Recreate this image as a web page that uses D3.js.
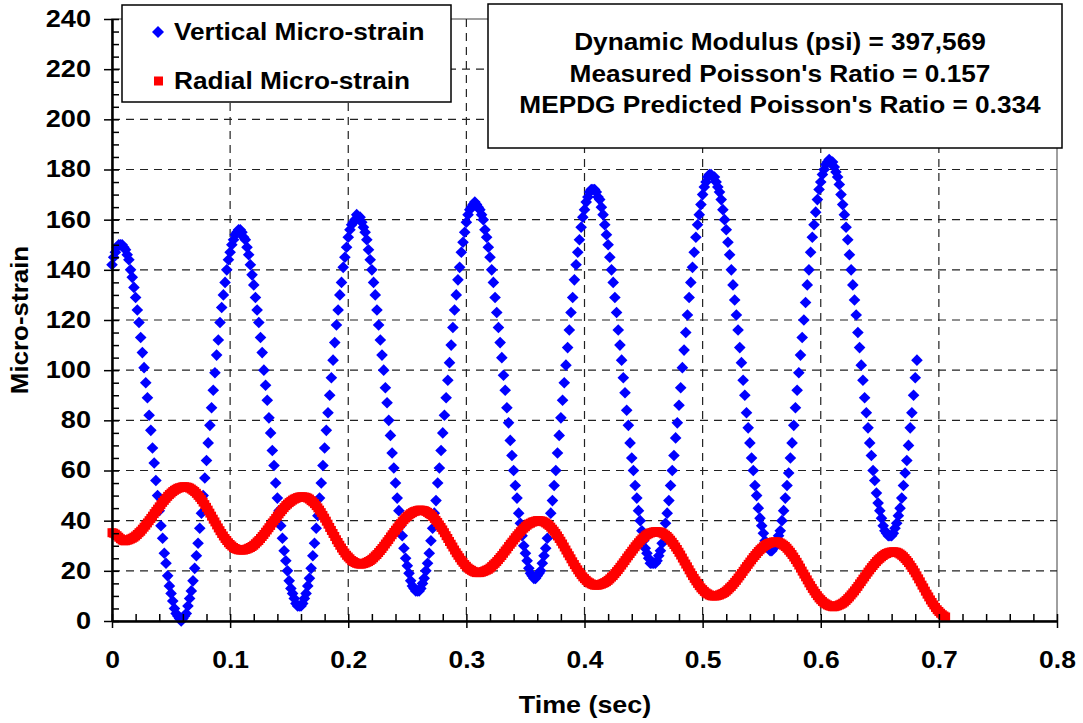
<!DOCTYPE html>
<html>
<head>
<meta charset="utf-8">
<script src="https://cdn.jsdelivr.net/npm/d3@7/dist/d3.min.js"></script>
<style>
  body { margin: 0; background: #fff; }
  text { font-family: "Liberation Sans", Arial, sans-serif; font-weight: bold; fill: #000; }
</style>
</head>
<body>
<div id="chart"></div>
<script>
// sampling interval of the recorded strains (sec)
const sampleStep = 1 / 700

// vertical micro-strain, one value per sample
const verticalStrain = [
  142,145,147,149,150,150,
  150,149,148,146,144,140,137,133,129,124,119,113,107,101,95,89,82,76,69,63,56,50,44,38,33,27,23,18,14,11,8,5,3,2,1,0,
  1,2,3,6,9,12,16,21,26,31,37,43,50,57,64,71,78,85,92,99,106,112,119,125,130,135,140,144,147,150,152,154,155,156,
  156,155,153,152,149,146,142,138,134,129,124,119,113,107,100,94,88,81,75,68,62,55,49,44,38,33,28,24,20,16,13,11,9,7,6,6,
  6,7,9,11,14,17,21,26,31,37,42,49,55,62,69,76,83,90,97,104,111,118,124,130,135,141,145,149,153,156,158,159,160,162,
  161,161,159,157,155,152,148,144,140,135,130,124,118,112,106,100,93,87,80,74,67,61,55,49,44,38,34,29,25,22,19,16,14,13,12,12,
  12,13,15,17,20,23,27,32,37,43,48,55,61,68,75,82,89,96,103,110,117,124,130,136,141,147,151,155,159,162,164,165,166,167,
  166,165,164,162,160,156,153,149,145,140,135,129,123,117,111,105,98,92,85,79,72,66,60,54,49,43,39,34,30,27,24,21,19,18,17,17,
  18,19,20,23,26,29,33,38,43,48,54,60,67,74,81,88,95,102,109,116,123,129,136,142,147,152,157,161,164,167,169,171,172,172,
  172,171,169,168,165,162,158,154,150,145,140,135,129,123,116,110,104,97,91,84,78,71,65,60,54,49,44,40,36,32,29,27,25,23,23,23,
  23,24,26,28,31,35,39,43,48,54,60,66,73,79,86,93,101,108,115,122,129,135,141,147,153,158,162,166,170,173,175,177,178,178,
  177,177,175,173,171,168,164,160,156,151,146,140,134,128,122,116,109,103,96,90,83,77,71,65,60,54,50,45,41,38,35,32,30,29,28,28,
  29,30,31,34,36,40,44,49,54,59,65,71,78,85,92,99,106,113,120,127,134,140,147,153,158,163,168,172,175,178,180,182,183,184,
  183,183,181,179,177,174,170,166,162,157,152,146,140,134,128,122,115,109,102,96,89,83,77,71,66,60,56,51,47,44,41,38,36,35,34,34,
  34,35,37,39,42,45,49,54,59,64,70,77,83,90,97,104
]

// radial micro-strain, one value per sample
const radialStrain = [
  35.2,35.0,34.6,34.0,33.4,32.8,32.3,32.0,
  32.0,32.2,32.4,32.7,33.0,33.4,33.9,34.5,35.2,35.8,36.6,37.4,38.2,39.1,40.0,40.9,41.8,42.8,43.7,44.6,45.5,46.4,47.3,48.1,48.9,49.7,50.4,51.0,51.6,52.1,52.5,52.9,53.1,53.3,53.5,53.5,
  53.4,53.3,53.0,52.6,52.1,51.6,50.9,50.1,49.3,48.4,47.4,46.4,45.3,44.2,43.0,41.8,40.6,39.5,38.3,37.1,36.0,34.9,33.9,32.9,32.1,31.2,30.5,29.9,29.3,28.9,28.6,28.4,28.3,28.3,
  28.3,28.5,28.7,29.0,29.3,29.7,30.2,30.8,31.5,32.1,32.9,33.7,34.5,35.4,36.3,37.2,38.1,39.1,40.0,40.9,41.8,42.7,43.6,44.4,45.2,46.0,46.6,47.2,47.7,48.2,48.6,48.9,49.2,49.4,49.5,49.5,
  49.4,49.3,49.0,48.6,48.0,47.5,46.8,46.0,45.1,44.2,43.2,42.1,41.0,39.8,38.6,37.3,36.1,34.9,33.7,32.4,31.3,30.2,29.1,28.1,27.1,26.2,25.5,24.8,24.1,23.7,23.3,23.0,22.8,22.7,
  22.7,22.9,23.1,23.4,23.7,24.1,24.6,25.2,25.9,26.5,27.3,28.1,28.9,29.8,30.7,31.6,32.5,33.5,34.4,35.3,36.2,37.1,38.0,38.8,39.6,40.4,41.1,41.7,42.3,42.8,43.2,43.6,43.8,44.0,44.2,44.2,
  44.1,44.0,43.7,43.3,42.8,42.4,41.7,40.9,40.1,39.3,38.3,37.3,36.3,35.2,34.0,32.9,31.7,30.6,29.5,28.3,27.2,26.2,25.2,24.2,23.4,22.5,21.8,21.1,20.6,20.2,19.8,19.5,19.3,19.3,
  19.3,19.5,19.7,20.0,20.3,20.6,21.1,21.7,22.4,23.0,23.7,24.5,25.3,26.1,27.0,27.9,28.7,29.7,30.6,31.4,32.3,33.2,34.0,34.8,35.6,36.3,37.0,37.6,38.2,38.7,39.0,39.4,39.6,39.8,40.0,40.0,
  39.9,39.8,39.5,39.1,38.6,38.1,37.4,36.6,35.8,34.9,33.9,32.9,31.8,30.7,29.5,28.3,27.1,26.0,24.8,23.6,22.5,21.4,20.4,19.4,18.5,17.6,16.9,16.2,15.6,15.2,14.8,14.5,14.3,14.3,
  14.3,14.5,14.7,15.0,15.3,15.7,16.2,16.8,17.5,18.1,18.9,19.7,20.5,21.4,22.3,23.2,24.1,25.1,26.0,26.9,27.8,28.7,29.6,30.4,31.2,32.0,32.7,33.3,33.9,34.4,34.8,35.1,35.3,35.5,35.6,35.6,
  35.5,35.4,35.1,34.7,34.2,33.7,33.0,32.2,31.4,30.5,29.5,28.5,27.4,26.3,25.1,23.9,22.7,21.6,20.4,19.2,18.1,17.0,16.0,15.0,14.1,13.2,12.5,11.8,11.2,10.8,10.4,10.1,10.0,10.0,
  10.0,10.2,10.4,10.7,11.0,11.4,11.9,12.5,13.2,13.8,14.6,15.4,16.2,17.1,18.0,18.9,19.8,20.8,21.7,22.6,23.5,24.4,25.3,26.1,26.9,27.7,28.4,29.0,29.6,30.1,30.5,30.9,31.1,31.3,31.5,31.6,
  31.5,31.4,31.1,30.7,30.2,29.7,29.0,28.2,27.4,26.5,25.5,24.5,23.4,22.3,21.1,19.9,18.7,17.6,16.4,15.2,14.1,13.0,12.0,11.0,10.1,9.2,8.5,7.8,7.2,6.8,6.4,6.1,5.9,5.7,
  5.7,5.9,6.1,6.4,6.7,7.1,7.6,8.2,8.9,9.6,10.4,11.2,12.0,12.9,13.8,14.8,15.7,16.7,17.6,18.6,19.5,20.4,21.3,22.1,22.9,23.7,24.4,25.0,25.6,26.1,26.6,26.9,27.2,27.4,27.5,27.6,
  27.5,27.4,27.1,26.7,26.2,25.6,24.9,24.1,23.3,22.3,21.3,20.3,19.2,18.0,16.8,15.6,14.3,13.2,11.9,10.7,9.6,8.4,7.4,6.4,5.4,4.5,3.8,3.1,2.5,2.0,1.6
]

const xTickValues = [0, 0.1, 0.2, 0.3, 0.4, 0.5, 0.6, 0.7, 0.8]
const xTickLabels = ["0", "0.1", "0.2", "0.3", "0.4", "0.5", "0.6", "0.7", "0.8"]
const yTickValues = [0, 20, 40, 60, 80, 100, 120, 140, 160, 180, 200, 220, 240]

const seriesNames = ["Vertical Micro-strain", "Radial Micro-strain"]
const seriesColors = ["#0000ff", "#ff0000"]
const infoLines = [
  "Dynamic Modulus (psi) = 397,569",
  "Measured Poisson's Ratio = 0.157",
  "MEPDG Predicted Poisson's Ratio = 0.334"
]
const xTitle = "Time (sec)"
const yTitle = "Micro-strain"

// layout
const W = 1083, H = 723
const margin = { top: 19, right: 26, bottom: 102, left: 112 }
const plotW = W - margin.left - margin.right
const plotH = H - margin.top - margin.bottom

// the original lettering is a little wider than Liberation Sans
const widen = (sel, k) => sel.each(function () {
  const len = this.getComputedTextLength()
  d3.select(this).attr("textLength", len * k).attr("lengthAdjust", "spacingAndGlyphs")
})

const svg = d3.select("#chart").append("svg")
  .attr("width", W)
  .attr("height", H)

svg.append("rect").attr("width", W).attr("height", H).attr("fill", "#fff")

const g = svg.append("g")
  .attr("transform", `translate(${margin.left},${margin.top})`)

const x = d3.scaleLinear().domain([0, 0.8]).range([0, plotW])
const y = d3.scaleLinear().domain([0, 240]).range([plotH, 0])

// plot frame
g.append("rect")
  .attr("width", plotW).attr("height", plotH)
  .attr("fill", "none").attr("stroke", "#808080").attr("stroke-width", 1.5)

// dashed grid
g.append("g").selectAll("line")
  .data(xTickValues.slice(1, -1))
  .join("line")
  .attr("x1", d => x(d)).attr("x2", d => x(d))
  .attr("y1", 0).attr("y2", plotH)
  .attr("stroke", "#222").attr("stroke-width", 1.2).attr("stroke-dasharray", "8,6")

g.append("g").selectAll("line")
  .data(yTickValues.slice(1, -1))
  .join("line")
  .attr("x1", 0).attr("x2", plotW)
  .attr("y1", d => y(d)).attr("y2", d => y(d))
  .attr("stroke", "#222").attr("stroke-width", 1.2).attr("stroke-dasharray", "8,6")

// vertical strain: blue diamonds
const dia = 5.8
g.append("g").selectAll("path")
  .data(verticalStrain)
  .join("path")
  .attr("d", (d, i) => {
    const cx = x(i * sampleStep), cy = y(d)
    return `M${cx},${cy - dia}L${cx + dia},${cy}L${cx},${cy + dia}L${cx - dia},${cy}Z`
  })
  .attr("fill", seriesColors[0])

// radial strain: red squares
const sq = 9
g.append("g").selectAll("rect")
  .data(radialStrain)
  .join("rect")
  .attr("x", (d, i) => x(i * sampleStep) - sq / 2)
  .attr("y", d => y(d) - sq / 2)
  .attr("width", sq).attr("height", sq)
  .attr("fill", seriesColors[1])

// axes
const xAxis = g.append("g")
  .attr("transform", `translate(0,${plotH})`)
  .call(d3.axisBottom(x).tickValues(xTickValues).tickSize(7).tickSizeOuter(0)
    .tickPadding(24).tickFormat((d, i) => xTickLabels[i]))
const xMinor = g.append("g")
  .attr("transform", `translate(0,${plotH})`)
  .call(d3.axisBottom(x).tickValues(d3.range(0, 0.8001, 0.02)).tickSize(-7).tickSizeOuter(0).tickFormat(""))

const yAxis = g.append("g")
  .call(d3.axisLeft(y).tickValues(yTickValues).tickSize(8).tickSizeOuter(0).tickPadding(13))
const yMinor = g.append("g")
  .call(d3.axisLeft(y).tickValues(d3.range(0, 240.1, 5)).tickSize(-7).tickSizeOuter(0).tickFormat(""))

;[xAxis, xMinor, yAxis, yMinor].forEach(a => {
  a.select(".domain").attr("stroke", "#000").attr("stroke-width", 2)
  a.selectAll(".tick line").attr("stroke", "#000").attr("stroke-width", 1.5)
})
xAxis.selectAll(".tick text").attr("font-size", 23).attr("font-family", null).attr("fill", "#000")
  .call(widen, 1.15)
yAxis.selectAll(".tick text").attr("font-size", 23).attr("font-family", null).attr("fill", "#000")
  .call(widen, 1.18)

// axis titles
svg.append("text")
  .attr("x", 585)
  .attr("y", 713)
  .attr("text-anchor", "middle")
  .attr("font-size", 24)
  .text(xTitle)
  .call(widen, 1.12)

svg.append("text")
  .attr("transform", `translate(28,${margin.top + plotH / 2}) rotate(-90)`)
  .attr("text-anchor", "middle")
  .attr("font-size", 24)
  .text(yTitle)
  .call(widen, 1.08)

// legend
const legend = svg.append("g")
legend.append("rect")
  .attr("x", 122).attr("y", 5).attr("width", 329).attr("height", 97)
  .attr("fill", "#fff").attr("stroke", "#000").attr("stroke-width", 1.5)
const legendRows = [32, 81]
legend.append("path")
  .attr("d", `M158,${legendRows[0] - 6}L164,${legendRows[0]}L158,${legendRows[0] + 6}L152,${legendRows[0]}Z`)
  .attr("fill", seriesColors[0])
legend.append("rect")
  .attr("x", 154).attr("y", legendRows[1] - 4.5).attr("width", 9).attr("height", 9)
  .attr("fill", seriesColors[1])
legend.selectAll("text.lbl")
  .data(seriesNames)
  .join("text")
  .attr("class", "lbl")
  .attr("x", 174)
  .attr("y", (d, i) => legendRows[i] + 8)
  .attr("font-size", 23)
  .text(d => d)
  .call(widen, 1.14)

// info box
const info = svg.append("g")
info.append("rect")
  .attr("x", 488).attr("y", 4).attr("width", 574).attr("height", 144)
  .attr("fill", "#fff").attr("stroke", "#000").attr("stroke-width", 1.5)
info.selectAll("text")
  .data(infoLines)
  .join("text")
  .attr("x", 780)
  .attr("y", (d, i) => 50 + i * 31.5)
  .attr("text-anchor", "middle")
  .attr("font-size", 23)
  .text(d => d)
  .call(widen, 1.14)
</script>
</body>
</html>
